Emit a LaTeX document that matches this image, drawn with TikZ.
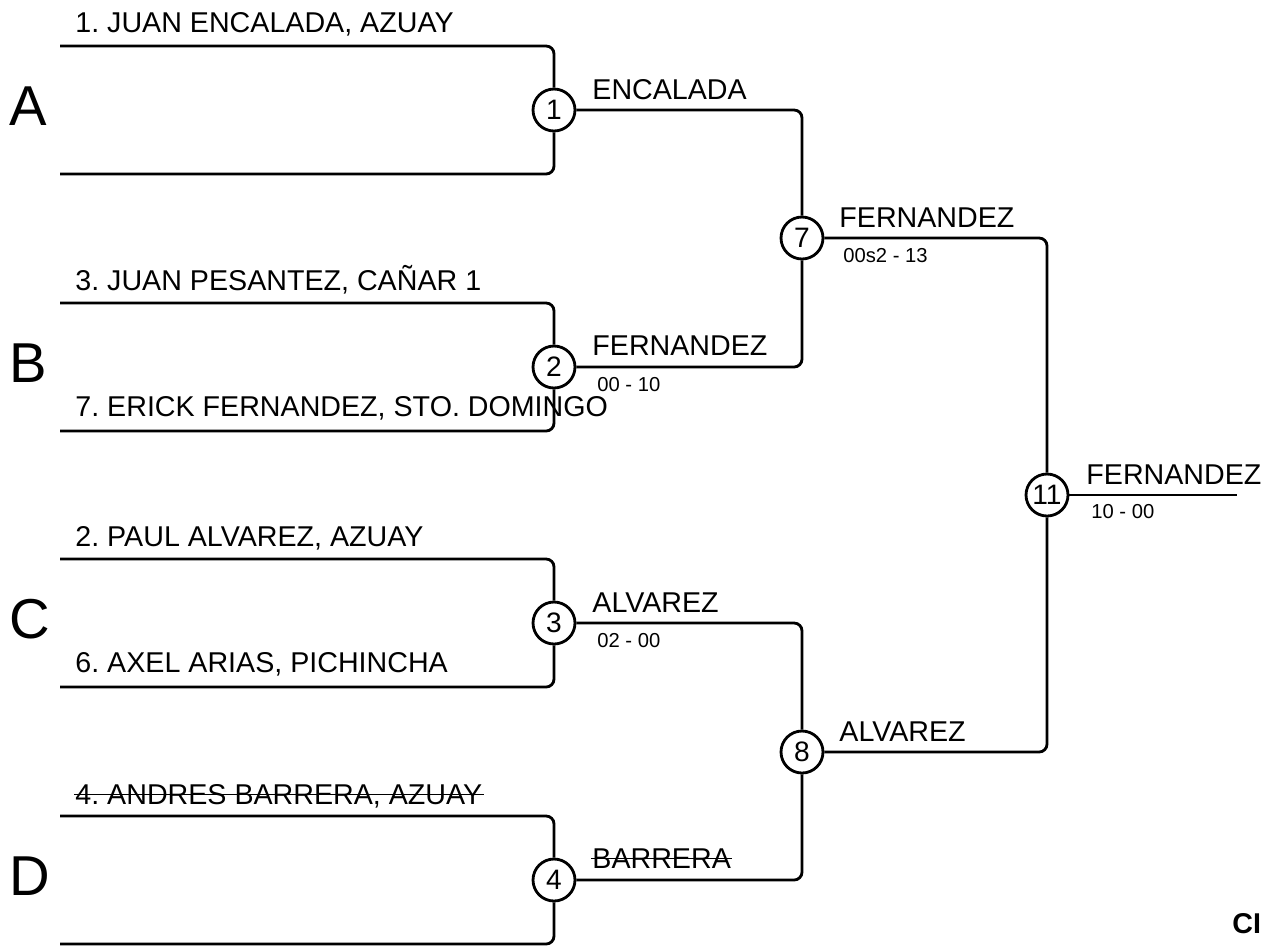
\documentclass[tikz,border=0pt]{standalone}
\usepackage{fontspec}
\setmainfont{Liberation Sans}
\usepackage{tikz}
\frenchspacing

\begin{document}
\begin{tikzpicture}[x=0.02cm, y=-0.02cm, line width=1.6pt,
    rnd/.style={circle, draw, fill=white, inner sep=0pt,
                minimum size=0.84cm, font=\fontsize{16}{16}\selectfont},
    player/.style={anchor=base west, inner sep=0pt,
                   font=\fontsize{16.3}{16}\selectfont},
    score/.style={anchor=base west, inner sep=0pt,
                  font=\fontsize{11.5}{11}\selectfont},
    group/.style={anchor=base west, inner sep=0pt,
                  font=\fontsize{32}{32}\selectfont},
    bracket/.style={rounded corners=4.5pt},
    strike/.style={line width=1.1pt}
    ]

    \useasboundingbox (0,0) rectangle (1263,948);

    % free ends of the brackets
    \coordinate (a1) at (60,46);
    \coordinate (a2) at (60,174);
    \coordinate (b1) at (60,303);
    \coordinate (b2) at (60,431);
    \coordinate (c1) at (60,559);
    \coordinate (c2) at (60,687);
    \coordinate (d1) at (60,816);
    \coordinate (d2) at (60,944);
    \coordinate (fin) at (1237,495);

    % rounds
    \node[rnd] (r1) at (554,110) {1};
    \node[rnd] (r2) at (554,367) {2};
    \node[rnd] (r3) at (554,623) {3};
    \node[rnd] (r4) at (554,880) {4};
    \node[rnd] (r7) at (802,238) {7};
    \node[rnd] (r8) at (802,752) {8};
    \node[rnd] (r11) at (1047,495) {11};

    \path[bracket]
    %first round
    (a1) edge [to path={-| (\tikztotarget)}] (r1.north)
    (a2) edge [to path={-| (\tikztotarget)}] (r1.south)
    (b1) edge [to path={-| (\tikztotarget)}] (r2.north)
    (b2) edge [to path={-| (\tikztotarget)}] (r2.south)
    (c1) edge [to path={-| (\tikztotarget)}] (r3.north)
    (c2) edge [to path={-| (\tikztotarget)}] (r3.south)
    (d1) edge [to path={-| (\tikztotarget)}] (r4.north)
    (d2) edge [to path={-| (\tikztotarget)}] (r4.south)
    %semifinals
    (r1.east) edge [to path={-| (\tikztotarget)}] (r7.north)
    (r2.east) edge [to path={-| (\tikztotarget)}] (r7.south)
    (r3.east) edge [to path={-| (\tikztotarget)}] (r8.north)
    (r4.east) edge [to path={-| (\tikztotarget)}] (r8.south)
    %final
    (r7.east) edge [to path={-| (\tikztotarget)}] (r11.north)
    (r8.east) edge [to path={-| (\tikztotarget)}] (r11.south)
    (r11.east) edge [] (fin);

    \node[group] (gA) at (8,125) {A};
    \node[group] (gB) at (8,382) {B};
    \node[group] (gC) at (8,638) {C};
    \node[group] (gD) at (8,895) {D};

    \node[player] (pA1) at (74,32) {1. JUAN ENCALADA, AZUAY};
    \node[player] (pB1) at (74,290) {3. JUAN PESANTEZ, CAÑAR 1};
    \node[player] (pB2) at (74,416) {7. ERICK FERNANDEZ, STO. DOMINGO};
    \node[player] (pC1) at (74,546) {2. PAUL ALVAREZ, AZUAY};
    \node[player] (pC2) at (74,672) {6. AXEL ARIAS, PICHINCHA};
    \node[player] (pD1) at (74,804) {4. ANDRES BARRERA, AZUAY};

    \node[player] (w1) at (591,99) {ENCALADA};
    \node[player] (w2) at (591,355) {FERNANDEZ};
    \node[player] (w3) at (591,612) {ALVAREZ};
    \node[player] (w4) at (591,868) {BARRERA};
    \node[player] (w7) at (838,227) {FERNANDEZ};
    \node[player] (w8) at (838,741) {ALVAREZ};
    \node[player] (w11) at (1085,484) {FERNANDEZ};

    \node[score] (s2) at (596,391) {00 - 10};
    \node[score] (s3) at (596,647) {02 - 00};
    \node[score] (s7) at (842,262) {00s2 - 13};
    \node[score] (s11) at (1090,518) {10 - 00};

    % withdrawn
    \draw[strike] ([yshift=0.19cm]pD1.base west) -- ([yshift=0.19cm]pD1.base east);
    \draw[strike] ([yshift=0.19cm]w4.base west) -- ([yshift=0.19cm]w4.base east);

    \node[player, font=\bfseries\fontsize{16.3}{16}\selectfont] (cl) at (1231,933) {CI};

\end{tikzpicture}
\end{document}
